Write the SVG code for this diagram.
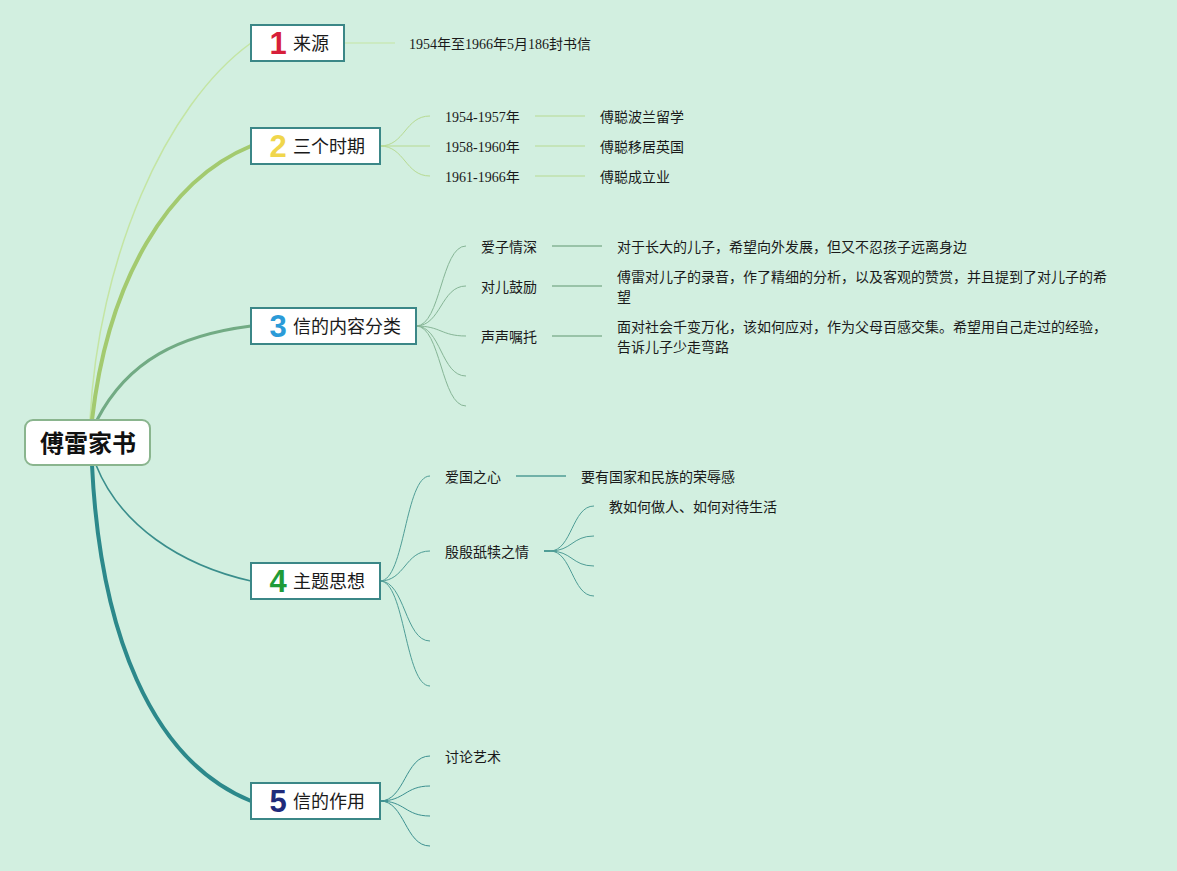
<svg xmlns="http://www.w3.org/2000/svg" width="1177" height="871" viewBox="0 0 1177 871">
<style>
.topic rect{fill:#ffffff;stroke:#3b8787;stroke-width:2}
.tt{font-family:"Noto Sans CJK SC","Noto Sans",sans-serif;font-size:18px;fill:#1a1a1a}
.num{font-family:"Liberation Sans",Arial,sans-serif;font-weight:bold;font-size:31px;text-anchor:middle}
.ct{font-family:"Liberation Serif","Noto Sans CJK SC",serif;font-size:14px;fill:#1a1a1a}
.c{fill:none}
</style>
<rect width="1177" height="871" fill="#d2efe0"/>
<g id="connectors">
  <path class="c" d="M90,420 C98,260 165,105 251,43" stroke="#c4e5a3" stroke-width="1.5"/>
  <path class="c" d="M92,420 C108,280 168,180 251,146" stroke="#a3ca6f" stroke-width="4"/>
  <path class="c" d="M97,420 C128,360 180,335 251,326" stroke="#72ab84" stroke-width="3"/>
  <path class="c" d="M96,465 C120,525 180,565 251,581" stroke="#3a8e8c" stroke-width="1.6"/>
  <path class="c" d="M92,465 C100,630 150,760 251,801" stroke="#2c898b" stroke-width="4"/>
  <!-- topic 1 -->
  <path class="c" d="M344,43 L395,43" stroke="#c4e5a3" stroke-width="1"/>
  <!-- topic 2 -->
  <g stroke="#b7da92" stroke-width="1" class="c">
    <path d="M380,146 C405,146 405,116 430,116"/>
    <path d="M380,146 L430,146"/>
    <path d="M380,146 C405,146 405,176 430,176"/>
    <path d="M535,116 L585,116"/>
    <path d="M535,146 L585,146"/>
    <path d="M535,176 L585,176"/>
  </g>
  <!-- topic 3 -->
  <g stroke="#86b596" stroke-width="1" class="c">
    <path d="M416,326 C441,326 441,246 466,246"/>
    <path d="M416,326 C441,326 441,286 466,286"/>
    <path d="M416,326 C441,326 441,336 466,336"/>
    <path d="M416,326 C441,326 441,376 466,376"/>
    <path d="M416,326 C441,326 441,406 466,406"/>
    <path d="M552,246 L602,246" stroke-width="1.3"/>
    <path d="M552,286 L602,286" stroke-width="1.3"/>
    <path d="M552,336 L602,336" stroke-width="1.3"/>
  </g>
  <!-- topic 4 -->
  <g stroke="#4f9d96" stroke-width="1" class="c">
    <path d="M380,581 C405,581 405,476 430,476"/>
    <path d="M380,581 C405,581 405,551 430,551"/>
    <path d="M380,581 C405,581 405,641 430,641"/>
    <path d="M380,581 C405,581 405,686 430,686"/>
    <path d="M516,476 L566,476" stroke-width="1.3"/>
    <path d="M544,551 L550,551" stroke-width="2"/>
    <path d="M550,551 C572,551 572,506 594,506"/>
    <path d="M550,551 C572,551 572,536 594,536"/>
    <path d="M550,551 C572,551 572,566 594,566"/>
    <path d="M550,551 C572,551 572,596 594,596"/>
  </g>
  <!-- topic 5 -->
  <g stroke="#3c9090" stroke-width="1" class="c">
    <path d="M380,801 C405,801 405,756 430,756"/>
    <path d="M380,801 C405,801 405,786 430,786"/>
    <path d="M380,801 C405,801 405,816 430,816"/>
    <path d="M380,801 C405,801 405,846 430,846"/>
  </g>
</g>
<g id="root">
  <rect x="25" y="420" width="125" height="45" rx="8" fill="#ffffff" stroke="#8ab58e" stroke-width="2"/>
  <text x="88" y="452" text-anchor="middle" font-family="Noto Sans CJK SC,sans-serif" font-weight="bold" font-size="24" fill="#111">傅雷家书</text>
</g>
<g id="topic1" class="topic">
  <rect x="251" y="25" width="93" height="36"/>
  <text class="num" x="278" y="54" fill="#d71f3a">1</text>
  <text class="tt" x="293" y="50">来源</text>
</g>
<g id="topic2" class="topic">
  <rect x="251" y="128" width="129" height="36"/>
  <text class="num" x="278" y="157" fill="#f0d64c">2</text>
  <text class="tt" x="293" y="153">三个时期</text>
</g>
<g id="topic3" class="topic">
  <rect x="251" y="308" width="165" height="36"/>
  <text class="num" x="278" y="337" fill="#2b9bd8">3</text>
  <text class="tt" x="293" y="333">信的内容分类</text>
</g>
<g id="topic4" class="topic">
  <rect x="251" y="563" width="129" height="36"/>
  <text class="num" x="278" y="592" fill="#1f9b38">4</text>
  <text class="tt" x="293" y="588">主题思想</text>
</g>
<g id="topic5" class="topic">
  <rect x="251" y="783" width="129" height="36"/>
  <text class="num" x="278" y="812" fill="#1f2a7a">5</text>
  <text class="tt" x="293" y="808">信的作用</text>
</g>
<g id="n1a"><text class="ct" x="409" y="49">1954年至1966年5月186封书信</text></g>
<g id="n2a"><text class="ct" x="445" y="122">1954-1957年</text></g>
<g id="n2b"><text class="ct" x="445" y="152">1958-1960年</text></g>
<g id="n2c"><text class="ct" x="445" y="182">1961-1966年</text></g>
<g id="n2a1"><text class="ct" x="600" y="122">傅聪波兰留学</text></g>
<g id="n2b1"><text class="ct" x="600" y="152">傅聪移居英国</text></g>
<g id="n2c1"><text class="ct" x="600" y="182">傅聪成立业</text></g>
<g id="n3a"><text class="ct" x="481" y="252">爱子情深</text></g>
<g id="n3b"><text class="ct" x="481" y="292">对儿鼓励</text></g>
<g id="n3c"><text class="ct" x="481" y="342">声声嘱托</text></g>
<g id="n3a1"><text class="ct" x="617" y="252">对于长大的儿子，希望向外发展，但又不忍孩子远离身边</text></g>
<g id="n3b1"><text class="ct" x="617" y="282">傅雷对儿子的录音，作了精细的分析，以及客观的赞赏，并且提到了对儿子的希</text><text class="ct" x="617" y="302">望</text></g>
<g id="n3c1"><text class="ct" x="617" y="332">面对社会千变万化，该如何应对，作为父母百感交集。希望用自己走过的经验，</text><text class="ct" x="617" y="352">告诉儿子少走弯路</text></g>
<g id="n4a"><text class="ct" x="445" y="482">爱国之心</text></g>
<g id="n4a1"><text class="ct" x="581" y="482">要有国家和民族的荣辱感</text></g>
<g id="n4b"><text class="ct" x="445" y="557">殷殷舐犊之情</text></g>
<g id="n4b1"><text class="ct" x="609" y="512">教如何做人、如何对待生活</text></g>
<g id="n5a"><text class="ct" x="445" y="762">讨论艺术</text></g>
</svg>
